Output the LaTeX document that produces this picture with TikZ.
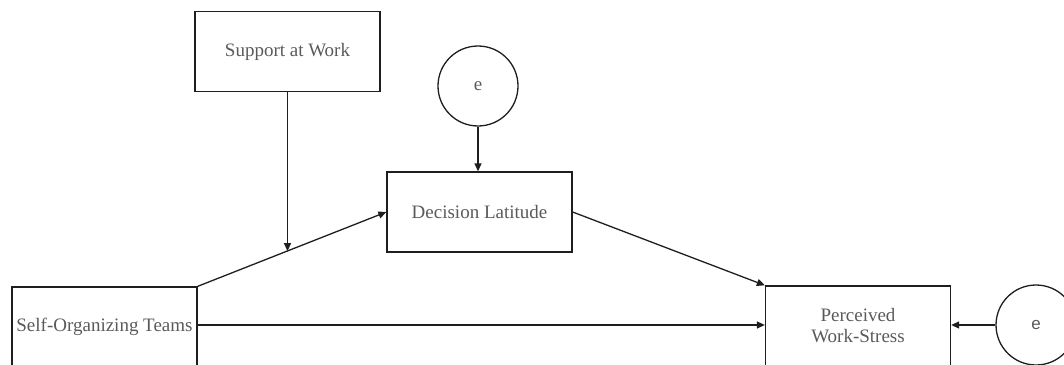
\documentclass[tikz,border=0pt]{standalone}
\usepackage{fontspec}
\setmainfont{Liberation Serif}
\setsansfont{Liberation Sans}
\usetikzlibrary{arrows.meta,calc}
\definecolor{txt}{HTML}{5A5A5A}
\definecolor{ln}{HTML}{1E1E1E}
\tikzset{
  box/.style={draw=ln, line width=1.3pt, minimum width=185pt, minimum height=80pt, inner sep=0pt, text=txt, font=\fontsize{19}{21}\selectfont, align=center},
  err/.style={draw=ln, line width=1.3pt, circle, minimum size=80pt, inner sep=0pt, text=txt},
  arr/.style={draw=ln, line width=1.3pt, -{Triangle[length=8pt,width=7pt]}},
  con/.style={draw=ln, line width=1.3pt}
}
\begin{document}
\begin{tikzpicture}[x=1pt,y=-1pt]
\useasboundingbox (0,0) rectangle (1064,364);
\node[box] (support) at (287.5,51.5) {Support at Work};
\node[err, font=\fontsize{19}{21}\selectfont] (e1) at (478,86) {e};
\node[box] (dec) at (479.5,212) {Decision Latitude};
\node[box] (sot) at (104.5,327) {Self-Organizing Teams};
\node[box] (pws) at (858,326) {Perceived\\Work-Stress};
\node[err, font=\sffamily\fontsize{17}{19}\selectfont] (e2) at (1036,325) {e};
\draw[arr] (sot.north east) -- (dec.west);
\path (sot.north east) -- (dec.west) coordinate[pos=0.474] (m);
\draw[arr] (support.south) -- (support.south |- m);
\draw[arr] (e1.south) -- (e1.south |- dec.north);
\draw[arr] (dec.east) -- (pws.north west);
\draw[arr] (sot.east |- e2.west) -- (pws.west |- e2.west);
\draw[arr] (e2.west) -- (pws.east |- e2.west);
\end{tikzpicture}
\end{document}
